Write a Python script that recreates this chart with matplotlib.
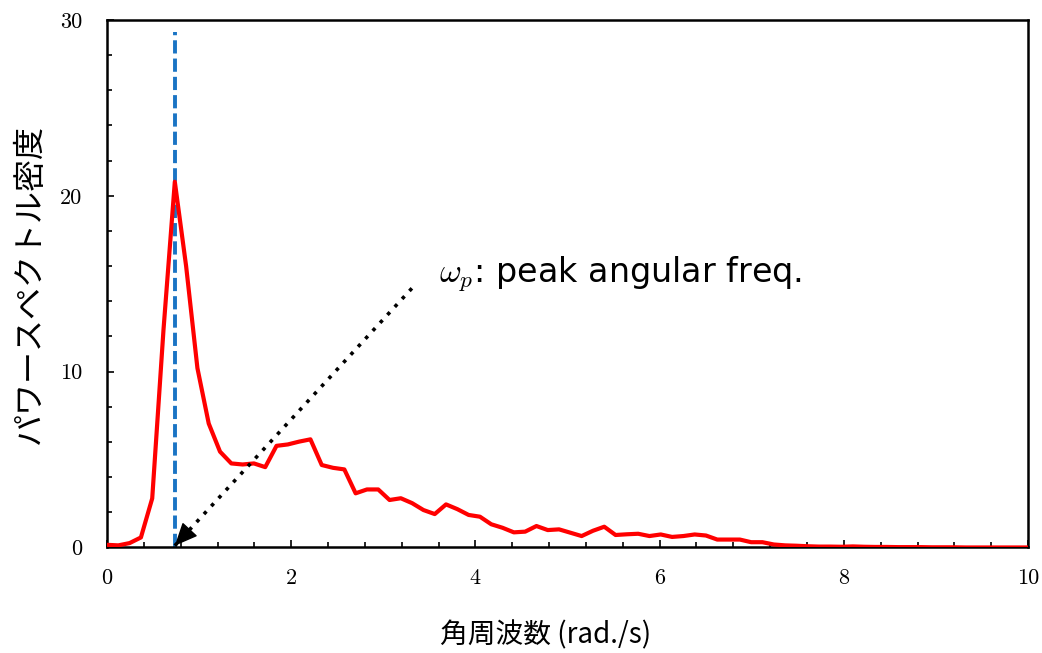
import numpy as np
import matplotlib
matplotlib.use('Agg')
from matplotlib import pyplot as plt

plt.rcParams['mathtext.fontset'] = 'cm'

# spectrum sampled on a uniform angular frequency grid (rad/s)
d_omega = 0.1227
psd = [0.15, 0.12, 0.25, 0.57, 2.79, 12.4, 20.8, 16.0, 10.2, 7.05,
       5.45, 4.78, 4.72, 4.78, 4.57, 5.78, 5.86, 6.02, 6.15, 4.69,
       4.53, 4.44, 3.08, 3.30, 3.30, 2.70, 2.80, 2.52, 2.13, 1.90,
       2.45, 2.18, 1.85, 1.75, 1.32, 1.12, 0.86, 0.90, 1.22, 0.99,
       1.03, 0.84, 0.65, 0.95, 1.18, 0.71, 0.75, 0.78, 0.65, 0.74,
       0.60, 0.65, 0.74, 0.68, 0.45, 0.45, 0.45, 0.30, 0.30, 0.17,
       0.12, 0.10, 0.07, 0.05, 0.05, 0.04, 0.06, 0.04, 0.03, 0.03,
       0.02, 0.02, 0.02, 0.01, 0.01, 0.01, 0.0, 0.0, 0.0, 0.0,
       0.0, 0.0, 0.0]
omega = np.arange(len(psd)) * d_omega

xticks = [0, 2, 4, 6, 8, 10]
xtick_labels = ['0', '2', '4', '6', '8', '10']
yticks = [0, 10, 20, 30]
ytick_labels = ['0', '10', '20', '30']

xlabel = '角周波数 (rad./s)'
ylabel = 'パワースペクトル密度'
note = r'$\omega_p$: peak angular freq.'

omega_p = omega[int(np.argmax(psd))]
arrow_tail = (3.31, 14.74)

fig = plt.figure(figsize=(10.42, 6.53), dpi=100)
ax = fig.add_axes([0.1027, 0.1616, 0.8839, 0.8078])

ax.plot(omega, psd, color='red', lw=3.0, zorder=3)
ax.plot([omega_p, omega_p], [0, 29.3], color='#1a74c4', lw=2.8,
        linestyle=(0, (3.4, 1.3)), zorder=2)

# dotted shaft, then a solid head sitting on its end
tip = (omega_p, 0.1)
ax.plot([arrow_tail[0], tip[0]], [arrow_tail[1], tip[1]], color='black',
        lw=2.6, linestyle=(0, (1, 2)), zorder=4)
t = 0.05
near = (tip[0] + t * (arrow_tail[0] - tip[0]), tip[1] + t * (arrow_tail[1] - tip[1]))
ax.annotate('', xy=tip, xytext=near,
            arrowprops=dict(arrowstyle='-|>,head_length=0.9,head_width=0.4',
                            color='black', lw=1, mutation_scale=16,
                            shrinkA=0, shrinkB=0), zorder=5)
ax.text(3.6, 15.6, note, fontsize=24, ha='left', va='center',
        family='DejaVu Sans')

ax.set_xlim(0, 10)
ax.set_ylim(0, 30)
ax.set_xticks(xticks, labels=xtick_labels, fontfamily='cmr10', fontsize=16)
ax.set_yticks(yticks, labels=ytick_labels, fontfamily='cmr10', fontsize=16)
ax.set_xticks(np.arange(0, 10.01, 0.4), minor=True)
ax.set_yticks(np.arange(0, 30.01, 2), minor=True)
ax.tick_params(which='both', direction='in', top=False, right=False, width=1.2)
ax.tick_params(which='major', length=5)
ax.tick_params(which='minor', length=3.5)
ax.tick_params(axis='x', pad=15)
ax.tick_params(axis='y', pad=18)
for s in ax.spines.values():
    s.set_linewidth(1.8)

ax.set_xlabel(xlabel, fontsize=20, family=['Noto Sans CJK JP', 'DejaVu Sans'])
ax.xaxis.set_label_coords(0.476, -0.138)
ax.set_ylabel(ylabel, fontsize=23, family=['Noto Sans CJK JP', 'DejaVu Sans'])
ax.yaxis.set_label_coords(-0.066, 0.5)

plt.savefig('out.png', dpi=100)
